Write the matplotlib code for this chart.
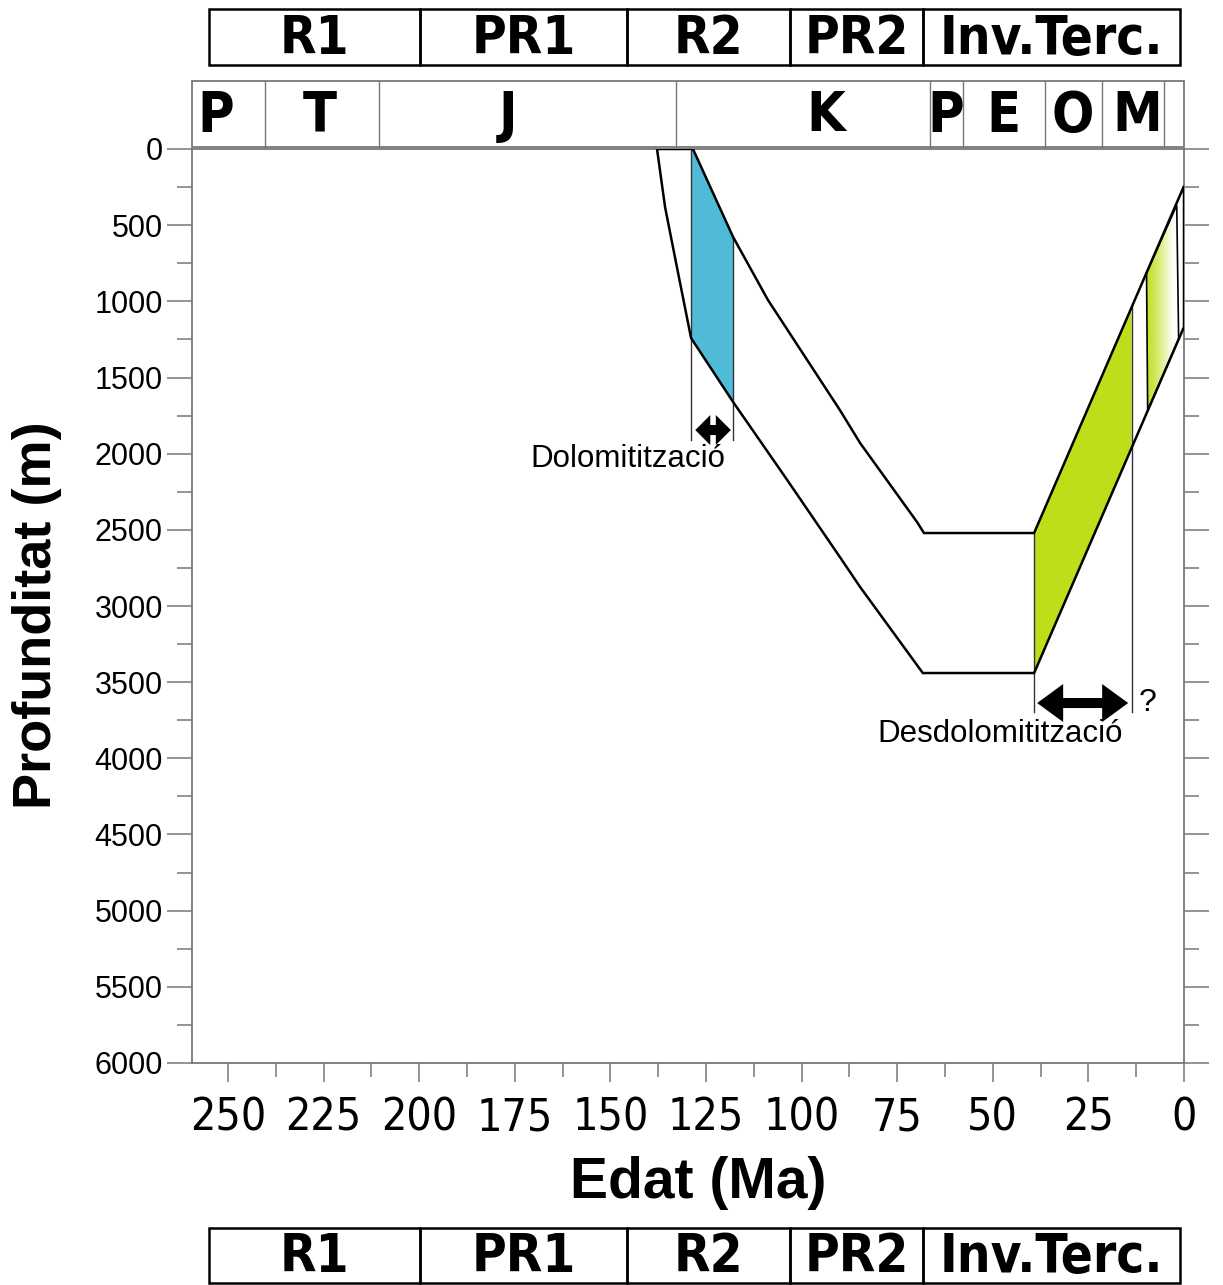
import matplotlib
matplotlib.use('Agg')
import matplotlib.pyplot as plt
import numpy as np
from matplotlib.patches import Polygon, Rectangle, FancyArrowPatch
from matplotlib import font_manager as fm

# ---------------- data ----------------
# top of the unit (age Ma, depth m)
top_age = [128.4, 117.9, 108.8, 90.0, 84.7, 69.8, 68.0, 39.2, 0.0]
top_depth = [0, 578, 991, 1713, 1930, 2449, 2521, 2521, 243]
# base of the unit
base_age = [137.8, 135.7, 132.6, 128.9, 117.9, 104.3, 90.0, 84.7, 68.3, 39.2, 0.0]
base_depth = [0, 381, 775, 1241, 1661, 2153, 2678, 2875, 3440, 3440, 1168]

# dolomitization window (blue)
dolo_age = [128.9, 128.4, 117.9, 117.9, 128.9]
dolo_depth = [0, 0, 578, 1661, 1241]
# dedolomitization window (green)
dedolo_age = [39.2, 13.7, 13.7, 39.2]
dedolo_depth = [2521, 1038, 1962, 3440]
# uncertain dedolomitization (fading green)
fade_age = [9.8, 1.9, 1.4, 9.5]
fade_depth = [813, 370, 1247, 1718]

# annotation markers
dolo_marks = [128.9, 117.9]
dedolo_marks = [39.2, 13.7]

# chronostratigraphy
chrono_bounds = [259.4, 240.3, 210.5, 132.8, 66.4, 57.8, 36.3, 21.4, 5.2, 0.0]
chrono_labels = ['P', 'T', 'J', 'K', 'P', 'E', 'O', 'M']
chrono_label_pos = [253.1, 225.9, 176.8, 93.6, 62.2, 47.3, 29.0, 12.3]

# tectonic stages
stage_bounds = [255.0, 199.8, 145.7, 103.0, 68.3, 1.0]
stage_labels = ['R1', 'PR1', 'R2', 'PR2', 'Inv.Terc.']

x_major = np.arange(0, 251, 25)
x_minor = np.arange(0, 251, 12.5)
y_major = np.arange(0, 6001, 500)
y_minor = np.arange(0, 6001, 250)

# ---------------- fonts ----------------
SANS = ['Liberation Sans', 'DejaVu Sans']
# pick a condensed face if one is installed
NARROW_FP = None
for f in fm.fontManager.ttflist:
    nm = f.name.lower()
    if ('narrow' in nm or 'condensed' in nm or f.stretch in ('condensed', 'semi-condensed', 'extra-condensed')) \
            and 'mono' not in nm and 'serif' not in nm.replace('sans', ''):
        NARROW_FP = f.name
        break


def narrow_kw(size, bold=False):
    kw = dict(fontsize=size)
    if NARROW_FP is not None:
        kw['family'] = [NARROW_FP] + SANS
        kw['fontstretch'] = 'condensed'
    else:
        kw['family'] = SANS
    if bold:
        kw['fontweight'] = 'bold'
    return kw


# ---------------- figure ----------------
W, H = 1223, 1285
fig = plt.figure(figsize=(W / 100, H / 100), dpi=100)


def fx(px):
    return px / W


def fy(py):
    return 1 - py / H


ax_l, ax_r, ax_t, ax_b = 192, 1184, 149, 1063
ax = fig.add_axes([fx(ax_l), fy(ax_b), (ax_r - ax_l) / W, (ax_b - ax_t) / H])
ax.set_xlim(259.4, 0)
ax.set_ylim(6000, 0)

grey = '#777777'
for s in ax.spines.values():
    s.set_color(grey)
    s.set_linewidth(1.3)

narrow_tick = NARROW_FP is not None
ax.set_xticks(x_major)
ax.set_xticks(x_minor, minor=True)
ax.set_xticklabels([str(int(v)) for v in x_major],
                   **narrow_kw(32 if narrow_tick else 30))
ax.set_yticks(y_major)
ax.set_yticks(y_minor, minor=True)
ax.set_yticklabels([str(int(v)) for v in y_major], family=SANS, fontsize=22)
ax.tick_params(axis='x', which='major', direction='out', length=14, width=1.1,
               color=grey, pad=10, top=False)
ax.tick_params(axis='x', which='minor', direction='out', length=10, width=1.1,
               color=grey, top=False)
ax.tick_params(axis='y', which='major', direction='out', length=18, width=1.1,
               color=grey, pad=3, left=True, right=True)
ax.tick_params(axis='y', which='minor', direction='out', length=11, width=1.1,
               color=grey, left=True, right=True)

# fills
ax.add_patch(Polygon(list(zip(dolo_age, dolo_depth)), closed=True,
                     facecolor='#4fbbd6', edgecolor='none', zorder=2))
ax.add_patch(Polygon(list(zip(dedolo_age, dedolo_depth)), closed=True,
                     facecolor='#bede1a', edgecolor='none', zorder=2))

fade_poly = Polygon(list(zip(fade_age, fade_depth)), closed=True,
                    facecolor='none', edgecolor='black', lw=1.2, zorder=3)
ax.add_patch(fade_poly)
n = 256
t = np.linspace(0, 1, n)
s = np.clip(t / 0.8, 0, 1) ** 1.2
left_c = np.array([196, 224, 40]) / 255.0
grad = left_c[None, :] * (1 - s[:, None]) + np.ones(3)[None, :] * s[:, None]
img = ax.imshow(grad[None, :, :], extent=(max(fade_age), min(fade_age),
                                          max(fade_depth), min(fade_depth)),
                aspect='auto', zorder=2, interpolation='bilinear')
img.set_clip_path(fade_poly)

# unit outline
outline_age = top_age + base_age[::-1]
outline_depth = top_depth + base_depth[::-1]
ax.add_patch(Polygon(list(zip(outline_age, outline_depth)), closed=True,
                     facecolor='none', edgecolor='black', lw=1.8,
                     joinstyle='miter', zorder=4))

# annotation verticals
lc = '#333333'
ax.plot([dolo_marks[0]] * 2, [0, 1910], color=lc, lw=1.0, zorder=3)
ax.plot([dolo_marks[1]] * 2, [578, 1910], color=lc, lw=1.0, zorder=3)
ax.plot([dedolo_marks[0]] * 2, [2521, 3696], color=lc, lw=1.0, zorder=3)
ax.plot([dedolo_marks[1]] * 2, [1038, 3696], color=lc, lw=1.0, zorder=3)

PX_PER_MA = (ax_r - ax_l) / 259.4


def double_arrow(x0, x1, y, hl, hw, tw, ms):
    xm = (x0 + x1) / 2
    head_ma = hl * ms * (100 / 72) / PX_PER_MA
    ax.plot([x0 - head_ma * 0.6, x1 + head_ma * 0.6], [y, y], color='black',
            lw=tw * ms, solid_capstyle='butt', zorder=5)
    for xe in (x0, x1):
        a = FancyArrowPatch((xm, y), (xe, y),
                            arrowstyle=f'simple,head_length={hl},head_width={hw},tail_width={tw}',
                            mutation_scale=ms, color='black', lw=0,
                            shrinkA=0, shrinkB=0, zorder=5)
        ax.add_patch(a)


double_arrow(127.8, 118.5, 1845, 0.75, 1.5, 0.5, 14.4)
double_arrow(38.4, 14.6, 3637, 1.3, 1.9, 0.5, 14.4)

ax.text(145.4, 2035, 'Dolomitització', family=SANS, fontsize=22.5,
        ha='center', va='center', zorder=6)
ax.text(48.1, 3840, 'Desdolomitització', family=SANS, fontsize=22.5,
        ha='center', va='center', zorder=6)
ax.text(9.4, 3637, '?', family=SANS, fontsize=23, ha='center', va='center', zorder=6)

# axis labels
fig.text(fx(698), fy(1183), 'Edat (Ma)', family=SANS, fontweight='bold',
         fontsize=41, ha='center', va='center')
fig.text(fx(37), fy(615), 'Profunditat (m)', family=SANS, fontweight='bold',
         fontsize=39, ha='center', va='center', rotation=90)

# chronostratigraphic row
ax_c = fig.add_axes([fx(ax_l), fy(147), (ax_r - ax_l) / W, (147 - 81) / H])
ax_c.set_xlim(259.4, 0)
ax_c.set_ylim(0, 1)
ax_c.axis('off')
ax_c.add_patch(Rectangle((chrono_bounds[0], 0), chrono_bounds[-1] - chrono_bounds[0], 1,
                         facecolor='none', edgecolor=grey, lw=1.3, clip_on=False))
for b in chrono_bounds[1:-1]:
    ax_c.plot([b, b], [0, 1], color=grey, lw=1.0, clip_on=False)
for lab, p in zip(chrono_labels, chrono_label_pos):
    ax_c.text(p, 0.47, lab, ha='center', va='center', **narrow_kw(40, True))


def stage_row(y_top, y_bot):
    a = fig.add_axes([fx(ax_l), fy(y_bot), (ax_r - ax_l) / W, (y_bot - y_top) / H])
    a.set_xlim(259.4, 0)
    a.set_ylim(0, 1)
    a.axis('off')
    for i, lab in enumerate(stage_labels):
        x0, x1 = stage_bounds[i], stage_bounds[i + 1]
        a.add_patch(Rectangle((x0, 0), x1 - x0, 1, facecolor='none',
                              edgecolor='black', lw=1.8, clip_on=False))
        a.text((x0 + x1) / 2, 0.47, lab, ha='center', va='center',
               **narrow_kw(38 if NARROW_FP else 36, True))


stage_row(9, 65)
stage_row(1228, 1283)

fig.savefig('out.png', dpi=100)
